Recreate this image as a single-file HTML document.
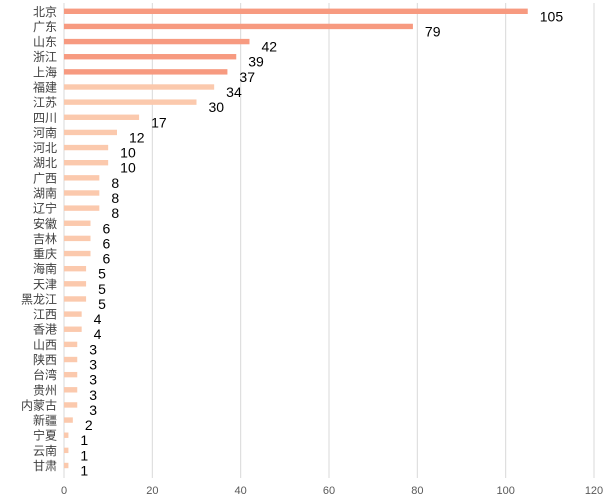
<!DOCTYPE html>
<html><head><meta charset="utf-8"><style>
body{margin:0;background:#fff;}
svg{display:block;font-family:"Liberation Sans","Noto Sans CJK SC",sans-serif;}
</style></head><body>
<svg id="chart" width="612" height="504"></svg>
<script>
const categories=["北京","广东","山东","浙江","上海","福建","江苏","四川","河南","河北","湖北","广西","湖南","辽宁","安徽","吉林","重庆","海南","天津","黑龙江","江西","香港","山西","陕西","台湾","贵州","内蒙古","新疆","宁夏","云南","甘肃"];
const values=[105,79,42,39,37,34,30,17,12,10,10,8,8,8,6,6,6,5,5,5,4,4,3,3,3,3,3,2,1,1,1];
const ticks=[0,20,40,60,80,100,120];
const NS="http://www.w3.org/2000/svg";
const svg=document.getElementById('chart');
const x0=64,x1=594,xmax=120,y0=11.3,step=15.14;
const xs=v=>x0+(x1-x0)*v/xmax;
const ys=i=>y0+i*step;
function mk(t,a){const e=document.createElementNS(NS,t);for(const k in a)e.setAttribute(k,a[k]);svg.appendChild(e);return e;}
ticks.forEach(t=>{
  const l=mk('line',{x1:xs(t),x2:xs(t),y1:3,y2:478,stroke:'#d9d9d9','stroke-width':1});
  
  
  const tx=mk('text',{x:xs(t),y:494,'text-anchor':'middle','font-size':11,fill:'#595959'});
  tx.textContent=t;
  
  
});
categories.forEach((c,i)=>{
  const y=ys(i);
  const lb=mk('text',{x:57,y:y+4.5,'text-anchor':'end','font-size':12,fill:'#404040'});
  lb.textContent=c;
  
  
  const b=mk('rect',{x:x0,y:y-2.7,width:xs(values[i])-x0,height:5.4,fill:i<5?'#f79a80':'#fbc9ad'});
  
  
  const v=mk('text',{x:xs(values[i])+12,y:y+10,'font-size':14,fill:'#000'});
  v.textContent=values[i];
  
  
});
</script>
</body></html>
